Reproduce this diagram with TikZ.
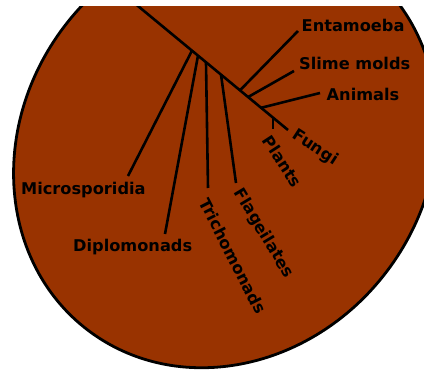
\documentclass[tikz,border=0pt]{standalone}
\usepackage{fontspec}
\setmainfont{DejaVu Sans}
\definecolor{cellfill}{RGB}{153,51,0}
\begin{document}
\begin{tikzpicture}[x=1pt,y=1pt,
  branch/.style={line width=2.6pt, black},
  lbl/.style={font=\fontsize{16.2}{19}\bfseries\selectfont, inner sep=0pt, text=black}]
\useasboundingbox (0,0) rectangle (424,-372);
\clip (0,-6) rectangle (424,-372);
\draw[line width=2.8pt, fill=cellfill, rotate around={52.9:(225.5,-149)}]
  (225.5,-149) ellipse [x radius=227.5, y radius=202.5];
% trunk
\coordinate (t0) at (130.7,0);
\coordinate (t1) at (288,-130);
% junctions on trunk
\coordinate (jMic) at (192,-50.6);
\coordinate (jDip) at (198,-55.6);
\coordinate (jTri) at (206,-62.2);
\coordinate (jFla) at (221,-74.6);
\coordinate (jEnt) at (240,-90.3);
\coordinate (jSli) at (248,-97.1);
\coordinate (jAni) at (261,-107.8);
\coordinate (jPla) at (273,-117.6);
% branch tips
\coordinate (eMic) at (128,-176);
\coordinate (eDip) at (165,-234);
\coordinate (eTri) at (208,-188);
\coordinate (eFla) at (236,-183);
\coordinate (eEnt) at (298,-31);
\coordinate (eSli) at (294,-71);
\coordinate (eAni) at (320,-93);
\coordinate (ePla) at (273,-129);
\draw[branch] (t0) -- (t1);
\draw[branch] (jMic) -- (eMic);
\draw[branch] (jDip) -- (eDip);
\draw[branch] (jTri) -- (eTri);
\draw[branch] (jFla) -- (eFla);
\draw[branch] (jEnt) -- (eEnt);
\draw[branch] (jSli) -- (eSli);
\draw[branch] (jAni) -- (eAni);
\draw[branch] (jPla) -- (ePla);
% labels
\node[lbl, anchor=base west] (lEnt) at (301.5,-31) {Entamoeba};
\node[lbl, anchor=base west] (lSli) at (299,-70) {Slime molds};
\node[lbl, anchor=base west] (lAni) at (326.5,-100) {Animals};
\node[lbl, anchor=base west] (lMic) at (21,-194) {Microsporidia};
\node[lbl, anchor=base west] (lDip) at (73,-251) {Diplomonads};
\node[lbl, rotate=-33] (lFun) at (315,-148) {Fungi};
\node[lbl, rotate=-57] (lPla) at (282.5,-161.5) {Plants};
\node[lbl, rotate=-59] (lFla) at (263.5,-233.5) {Flageilates};
\node[lbl, rotate=-63] (lTri) at (233,-256) {Trichomonads};
\end{tikzpicture}
\end{document}
